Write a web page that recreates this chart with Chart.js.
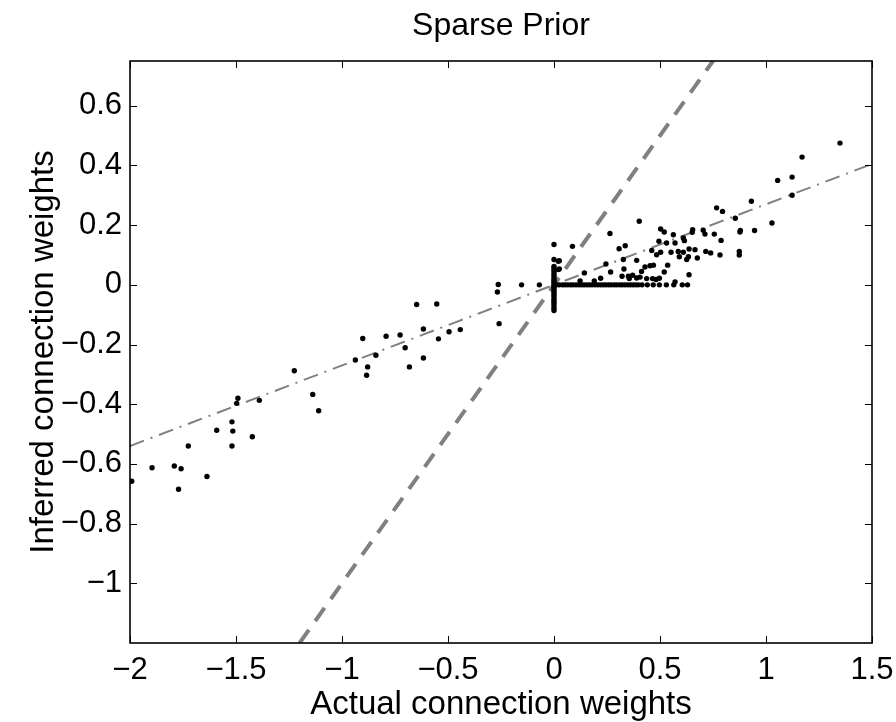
<!DOCTYPE html>
<html><head><meta charset="utf-8">
<script src="https://cdn.jsdelivr.net/npm/chart.js@4.4.1/dist/chart.umd.min.js"></script>
<style>html,body{margin:0;padding:0;background:#fff;overflow:hidden;}</style>
</head><body>
<canvas id="c" width="896" height="722"></canvas>
<script>
const titleText = 'Sparse Prior';
const xLabel = 'Actual connection weights';
const yLabel = 'Inferred connection weights';
const xTicks = [-2, -1.5, -1, -0.5, 0, 0.5, 1, 1.5];
const yTicks = [-1, -0.8, -0.6, -0.4, -0.2, 0, 0.2, 0.4, 0.6];
const xRange = [-2, 1.5];
const yRange = [-1.2, 0.75];

// strongly negative weights
const negActual   = [-1.992,-1.896,-1.791,-1.759,-1.771,-1.725,-1.637,-1.591,-1.519,-1.515,-1.519,-1.497,-1.491,-1.423,-1.390,-1.225,-1.138,-1.110,
                     -0.937,-0.902,-0.884,-0.879,-0.840,-0.792,-0.726,-0.702,-0.682,-0.648,-0.616,-0.616,-0.553,-0.545,-0.495,-0.442,-0.263,-0.267,-0.259,-0.153,-0.069];
const negInferred = [-0.658,-0.613,-0.607,-0.616,-0.685,-0.540,-0.642,-0.487,-0.540,-0.490,-0.459,-0.397,-0.380,-0.509,-0.387,-0.288,-0.367,-0.422,
                     -0.252,-0.180,-0.303,-0.275,-0.236,-0.172,-0.168,-0.211,-0.275,-0.066,-0.148,-0.245,-0.064,-0.181,-0.157,-0.150,0.001,-0.024,-0.130,0.000,0.000];
// actual weight zero, inferred non-zero
const zeroActual   = [0,0,0,0,0,0,0,0,0,0,0,0,0,0,0,0,0,0,0,0,0,0,0,0.02,0.02,0];
const zeroInferred = [0.135,0.085,0.062,0.055,0.048,0.040,0.033,0.026,0.019,0.012,0.006,0,-0.006,-0.012,-0.019,-0.026,-0.033,-0.040,-0.048,-0.055,-0.062,-0.070,-0.078,0.079,0.051,-0.086];
// actual weight positive, inferred pruned to zero
const prunedActual = [0.012,0.025,0.040,0.052,0.065,0.078,0.090,0.104,0.117,0.130,0.142,0.155,0.168,0.180,0.194,0.207,0.220,0.232,0.245,0.258,0.270,0.284,0.296,0.310,0.322,0.335,0.348,0.360,0.373,0.386,0.398,0.415,0.440,0.468,0.497,0.530,0.565,0.605,0.630];
const prunedInferred = [0,0,0,0,0,0,0,0,0,0,0,0,0,0,0,0,0,0,0,0,0,0,0,0,0,0,0,0,0,0,0,0,0,0,0,0,0,0,0];
// positive weights
const posActual   = [0.025,0.025,0.087,0.264,0.402,0.307,0.336,0.327,0.245,0.143,0.267,0.390,0.330,0.351,0.371,0.390,0.406,0.437,0.465,0.481,0.497,0.571,0.637,0.220,0.190,0.123,0.355,0.321,0.413,0.520,0.429,0.453,0.469,0.536,0.484,0.591,0.626,0.634,0.676,0.461,0.503,0.552,0.586,0.610,0.637,0.665,0.495,0.531,0.571,0.610,0.615,0.503,0.520,0.563,0.654,0.652,
                     0.704,0.712,0.756,0.788,0.716,0.739,0.783,0.767,0.795,0.855,0.879,0.877,0.874,0.874,0.931,0.946,1.028,1.055,1.123,1.123,1.170,1.349];
const posInferred = [0.081,0.053,0.129,0.172,0.213,0.121,0.131,0.085,0.070,0.040,0.043,0.082,0.053,0.029,0.032,0.023,0.026,0.021,0.021,0.018,0.022,0.010,0.034,0.022,0.013,0.013,0.021,0.029,0.045,0.043,0.060,0.064,0.066,0.066,0.101,0.094,0.085,0.094,0.090,0.115,0.109,0.109,0.112,0.109,0.120,0.118,0.146,0.140,0.140,0.157,0.148,0.187,0.177,0.168,0.185,0.176,
                     0.183,0.170,0.170,0.149,0.112,0.107,0.100,0.258,0.246,0.223,0.182,0.177,0.112,0.100,0.280,0.182,0.207,0.350,0.361,0.300,0.428,0.475];

const identityX = [-1.2, 0.75];
const identityY = [-1.2, 0.75];
const fitX = [-2, 1.5];
const fitY = [-0.54, 0.405];

const allX = [].concat(negActual, zeroActual, prunedActual, posActual);
const allY = [].concat(negInferred, zeroInferred, prunedInferred, posInferred);
const pts = allX.map((v, i) => ({x: v, y: allY[i]}));

const FONT = "'Liberation Sans', Arial, Helvetica, sans-serif";
Chart.defaults.font.family = FONT;
Chart.defaults.color = '#000';

const fmt = v => {
  const s = String(Math.round(v * 100) / 100);
  return s.replace('-', '\u2212');
};

const boxPlugin = {
  id: 'box',
  afterDatasetsDraw(chart) {
    const {ctx, chartArea: a, scales: {x, y}} = chart;
    ctx.save();
    ctx.strokeStyle = '#000';
    ctx.lineWidth = 1;
    ctx.beginPath();
    const L = 7;
    xTicks.forEach(v => {
      const px = Math.round(x.getPixelForValue(v)) + 0.5;
      ctx.moveTo(px, a.bottom); ctx.lineTo(px, a.bottom - L);
      ctx.moveTo(px, a.top); ctx.lineTo(px, a.top + L);
    });
    yTicks.forEach(v => {
      const py = Math.round(y.getPixelForValue(v)) + 0.5;
      ctx.moveTo(a.left, py); ctx.lineTo(a.left + L, py);
      ctx.moveTo(a.right, py); ctx.lineTo(a.right - L, py);
    });
    ctx.stroke();
    ctx.lineWidth = 1.6;
    ctx.strokeRect(a.left, a.top, a.right - a.left, a.bottom - a.top);
    ctx.restore();
  }
};

new Chart(document.getElementById('c'), {
  type: 'scatter',
  data: {
    datasets: [
      {
        data: pts,
        pointRadius: 2.7,
        pointBackgroundColor: '#000',
        pointBorderWidth: 0,
        showLine: false,
        order: 0
      },
      {
        data: fitX.map((v, i) => ({x: v, y: fitY[i]})),
        showLine: true,
        pointRadius: 0,
        borderColor: '#808080',
        borderWidth: 2,
        borderDash: [15, 7, 2, 7],
        order: 1
      },
      {
        data: identityX.map((v, i) => ({x: v, y: identityY[i]})),
        showLine: true,
        pointRadius: 0,
        borderColor: '#808080',
        borderWidth: 4,
        borderDash: [16, 11],
        order: 2
      }
    ]
  },
  options: {
    responsive: false,
    animation: false,
    layout: {padding: {top: 0, left: 0, right: 24, bottom: 0}},
    plugins: {
      legend: {display: false},
      tooltip: {enabled: false},
      title: {
        display: true,
        fullSize: false,
        text: titleText,
        color: '#000',
        font: {family: FONT, size: 32, weight: 'normal', lineHeight: 1},
        padding: {top: 10, bottom: 19}
      }
    },
    scales: {
      x: {
        type: 'linear',
        min: xRange[0], max: xRange[1],
        grid: {display: false, drawTicks: false},
        border: {display: false},
        afterBuildTicks: s => { s.ticks = xTicks.map(v => ({value: v})); },
        afterFit: s => { s.height = 79; s.paddingLeft = 0; s.paddingRight = 0; },
        ticks: {
          callback: v => fmt(v),
          font: {family: FONT, size: 31, lineHeight: 1},
          color: '#000',
          padding: 12,
          maxRotation: 0,
          autoSkip: false
        },
        title: {
          display: true,
          text: xLabel,
          color: '#000',
          font: {family: FONT, size: 33, lineHeight: 1},
          padding: {top: 0, bottom: 1}
        }
      },
      y: {
        type: 'linear',
        min: yRange[0], max: yRange[1],
        grid: {display: false, drawTicks: false},
        border: {display: false},
        afterBuildTicks: s => { s.ticks = yTicks.map(v => ({value: v})); },
        afterFit: s => { s.width = 130; s.paddingTop = 0; s.paddingBottom = 0; },
        ticks: {
          callback: v => fmt(v),
          font: {family: FONT, size: 31, lineHeight: 1},
          color: '#000',
          padding: 8,
          autoSkip: false
        },
        title: {
          display: true,
          text: yLabel,
          color: '#000',
          font: {family: FONT, size: 33, lineHeight: 1},
          padding: {top: 27, bottom: 0}
        }
      }
    }
  },
  plugins: [boxPlugin]
});
</script>
</body></html>
